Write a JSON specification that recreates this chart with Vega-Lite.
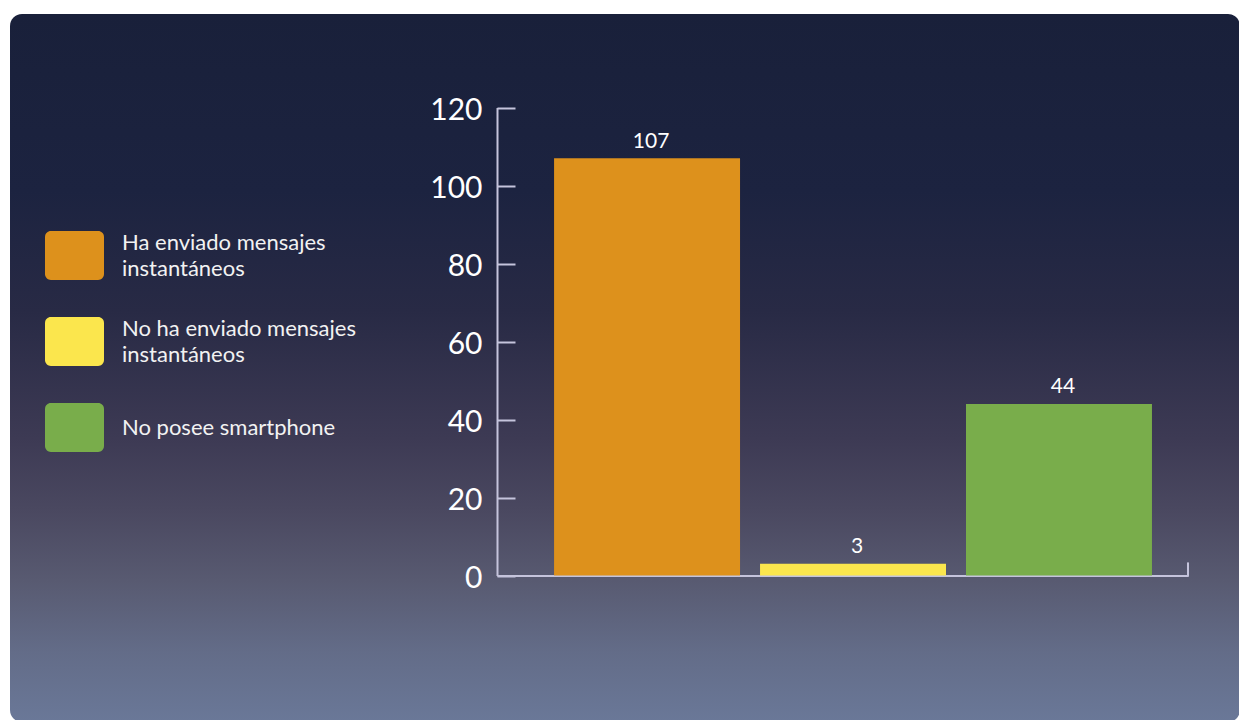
{
  "$schema": "https://vega.github.io/schema/vega-lite/v6.json",
  "width": 1230,
  "height": 708,
  "autosize": {"type": "none"},
  "padding": {"left": 10, "top": 14, "right": 0, "bottom": 0},
  "background": "#ffffff",
  "config": {
    "font": "Lato",
    "view": {
      "stroke": null,
      "cornerRadius": 12,
      "fill": {
        "gradient": "linear",
        "x1": 0, "y1": 0, "x2": 0, "y2": 1,
        "stops": [
          {"offset": 0, "color": "#19203a"},
          {"offset": 0.25, "color": "#1c2340"},
          {"offset": 0.42, "color": "#282a45"},
          {"offset": 0.6, "color": "#3d3a54"},
          {"offset": 0.7, "color": "#4a4860"},
          {"offset": 0.8, "color": "#585a71"},
          {"offset": 0.9, "color": "#636c88"},
          {"offset": 1, "color": "#6a7898"}
        ]
      }
    }
  },
  "data": {
    "values": [
      {"categoria": "Ha enviado mensajes instantáneos", "valor": 107},
      {"categoria": "No ha enviado mensajes instantáneos", "valor": 3},
      {"categoria": "No posee smartphone", "valor": 44}
    ]
  },
  "encoding": {
    "x": {
      "field": "categoria",
      "type": "nominal",
      "sort": null,
      "scale": {"range": [487, 1178], "paddingInner": 0.0971, "paddingOuter": 0.226, "align": 0.613},
      "axis": {
        "orient": "bottom",
        "offset": -146.5,
        "labels": false,
        "ticks": false,
        "title": null,
        "grid": false,
        "domainColor": "#c5c4dc",
        "domainWidth": 2
      }
    }
  },
  "layer": [
    {
      "mark": {"type": "bar"},
      "encoding": {
        "y": {
          "field": "valor",
          "type": "quantitative",
          "stack": null,
          "scale": {"domain": [0, 120], "range": [561.5, 93.5], "nice": false, "zero": false},
          "axis": {
            "orient": "left",
            "offset": -487,
            "values": [0, 20, 40, 60, 80, 100, 120],
            "title": null,
            "grid": false,
            "domainColor": "#c5c4dc",
            "domainWidth": 2,
            "tickColor": "#c5c4dc",
            "tickWidth": 2,
            "tickSize": -18,
            "labelColor": "#ffffff",
            "labelFont": "Lato",
            "labelFontSize": 30,
            "labelPadding": 33,
            "labelOffset": 3
          }
        },
        "color": {
          "field": "categoria",
          "type": "nominal",
          "sort": null,
          "scale": {
            "domain": ["Ha enviado mensajes instantáneos", "No ha enviado mensajes instantáneos", "No posee smartphone"],
            "range": ["#dd911c", "#fbe64d", "#79ad4b"]
          },
          "legend": {
            "orient": "none",
            "legendX": 35,
            "legendY": 212,
            "title": null,
            "symbolType": "M-0.8,-0.83H0.8A0.2,0.2 0 0 1 1,-0.63V0.63A0.2,0.2 0 0 1 0.8,0.83H-0.8A0.2,0.2 0 0 1 -1,0.63V-0.63A0.2,0.2 0 0 1 -0.8,-0.83Z",
            "symbolSize": 3481,
            "symbolStrokeWidth": 0,
            "symbolOpacity": 1,
            "labelFont": "Lato",
            "labelFontSize": 22,
            "labelColor": "#f2f2f2",
            "labelLimit": 400,
            "labelOffset": 18,
            "rowPadding": 32,
            "labelExpr": "datum.label == 'No posee smartphone' ? datum.label : [replace(datum.label, ' instantáneos', ''), 'instantáneos']",
            "encode": {
              "labels": {
                "update": {
                  "lineHeight": {"value": 26},
                  "dy": {"signal": "datum.value == 'No posee smartphone' ? 0 : -13"}
                }
              }
            }
          }
        }
      }
    },
    {
      "mark": {"type": "text", "dy": -10.5, "dx": 4, "baseline": "alphabetic", "align": "center", "fontSize": 21, "color": "#ffffff", "font": "Lato"},
      "encoding": {
        "y": {
          "field": "valor",
          "type": "quantitative",
          "scale": {"domain": [0, 120], "range": [561.5, 93.5], "nice": false, "zero": false},
          "axis": null
        },
        "text": {"field": "valor", "type": "quantitative"}
      }
    },
    {
      "data": {"values": [{}]},
      "mark": {"type": "rule", "xOffset": 129, "color": "#c5c4dc", "strokeWidth": 2, "strokeCap": "square"},
      "encoding": {
        "x": {"datum": "No posee smartphone", "type": "nominal"},
        "y": {"datum": 3.1, "type": "quantitative", "axis": null},
        "y2": {"datum": 0}
      }
    }
  ],
  "resolve": {"axis": {"y": "independent"}}
}
